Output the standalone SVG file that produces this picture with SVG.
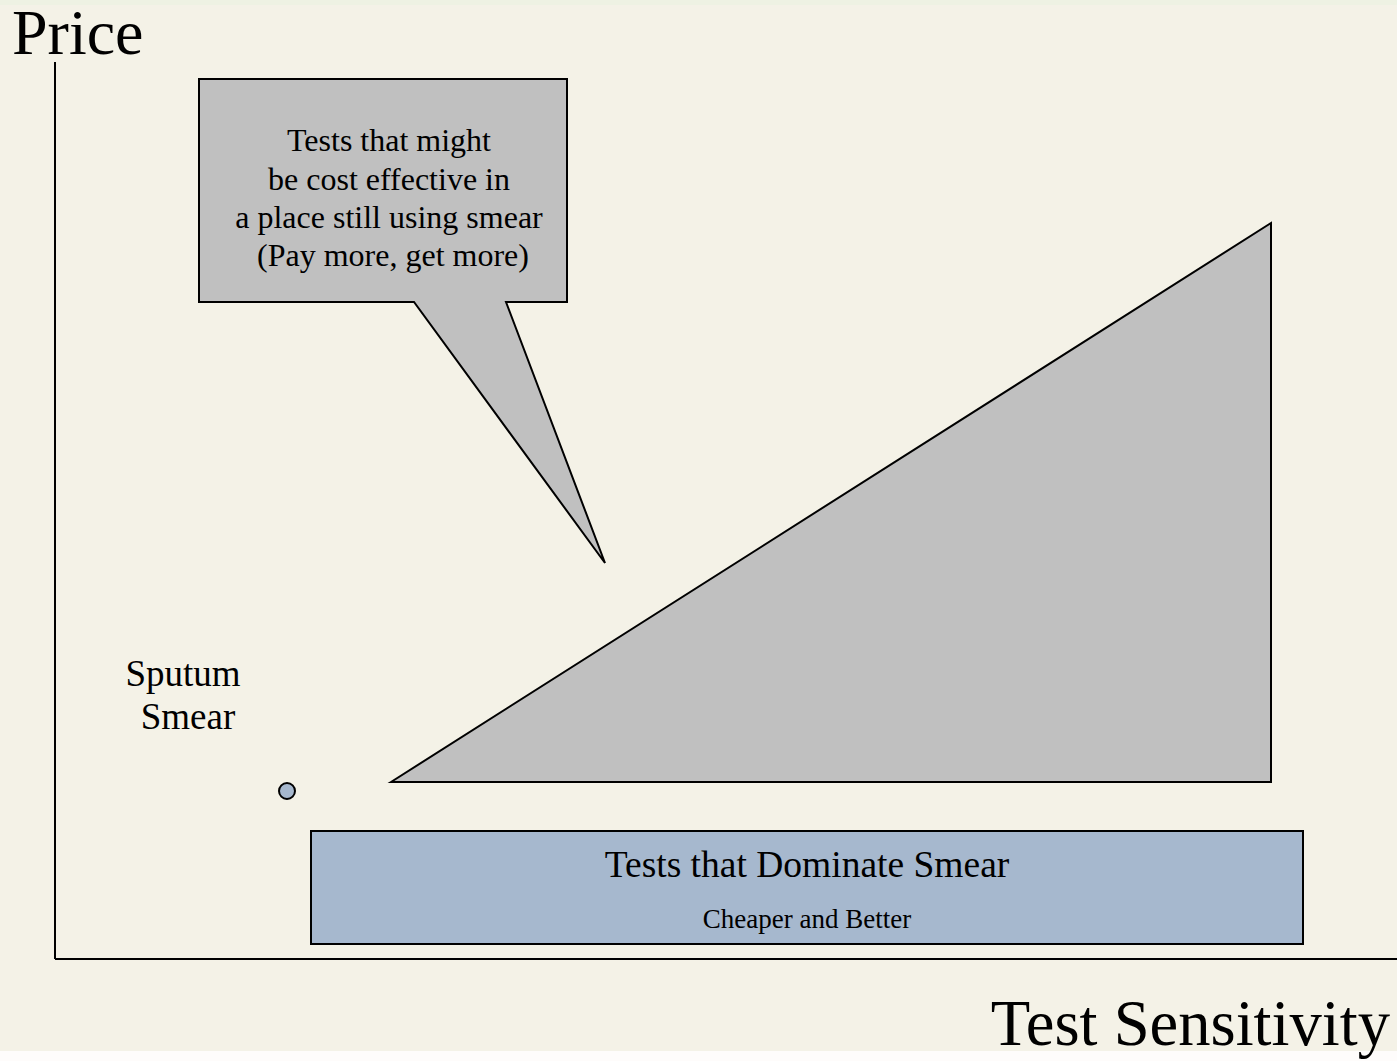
<svg xmlns="http://www.w3.org/2000/svg" width="1397" height="1061" viewBox="0 0 1397 1061">
<style>
.t{font-family:"Liberation Serif","Times New Roman",serif;fill:#000}
.s{stroke:#000;stroke-width:2}
</style>
<rect x="0" y="0" width="1397" height="1061" fill="#F4F2E7"/>
<rect x="0" y="0" width="1397" height="5" fill="#EEF2E3"/>
<rect x="0" y="1051" width="1397" height="10" fill="#FEFCFB"/>
<g id="axes">
<line class="s" x1="55" y1="62" x2="55" y2="959"/>
<line class="s" x1="55" y1="959" x2="1397" y2="959"/>
</g>
<g id="price-label"><text class="t" x="12" y="54" font-size="64">Price</text></g>
<g id="sensitivity-label"><text class="t" x="1390" y="1045" font-size="64.6" text-anchor="end">Test Sensitivity</text></g>
<g id="callout">
<path class="s" fill="#C0C0C0" d="M199,79 H567 V302 H506 L605,563 L414,302 H199 Z"/>
<text class="t" font-size="32" text-anchor="middle">
<tspan x="393" y="151">Tests that might</tspan>
<tspan x="393" y="190">be cost effective in</tspan>
<tspan x="393" y="228">a place still using smear</tspan>
<tspan x="393" y="266">(Pay more, get more)</tspan>
</text>
</g>
<g id="triangle"><path class="s" fill="#C0C0C0" d="M391,782 L1271,223 L1271,782 Z"/></g>
<g id="sputum">
<text class="t" font-size="37" text-anchor="middle"><tspan x="183" y="686">Sputum</tspan><tspan x="188" y="729">Smear</tspan></text>
<circle class="s" cx="287" cy="791" r="8" fill="#A6B8CE"/>
</g>
<g id="dominate">
<rect class="s" x="311" y="831" width="992" height="113" fill="#A6B8CE"/>
<text class="t" x="807" y="877" font-size="37.5" text-anchor="middle">Tests that Dominate Smear</text>
<text class="t" x="807" y="928" font-size="27" text-anchor="middle">Cheaper and Better</text>
</g>
</svg>
